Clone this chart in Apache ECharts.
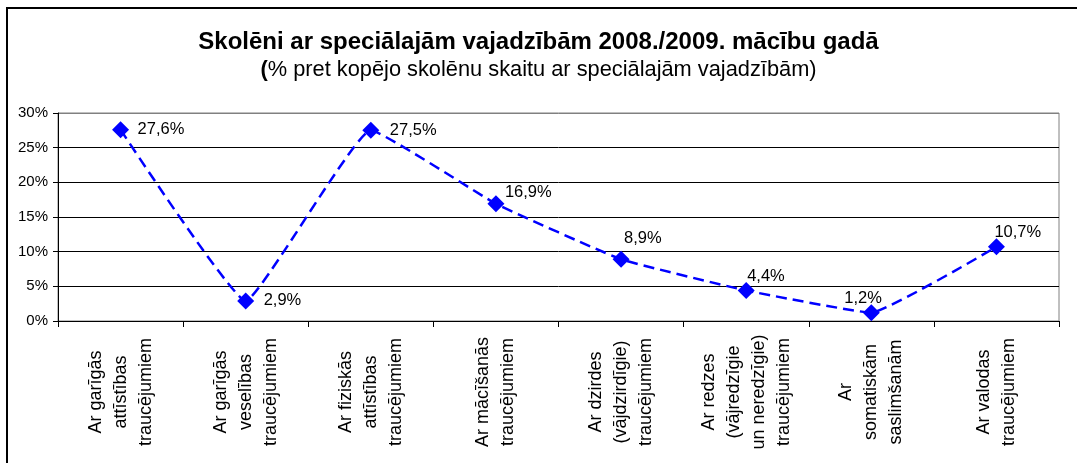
<!DOCTYPE html>
<html>
<head>
<meta charset="utf-8">
<title>Skolēni ar speciālajām vajadzībām</title>
<script src="https://cdn.jsdelivr.net/npm/echarts@6/dist/echarts.min.js"></script>
<style>
    html, body { margin: 0; padding: 0; background: #fff; overflow: hidden; }
    #chart { width: 1077px; height: 463px; }
    .frame { position: absolute; left: 6px; top: 7px; width: 1100px; height: 500px; border-left: 2px solid #000; border-top: 2px solid #000; pointer-events: none; }
</style>
</head>
<body>
<div id="chart"></div>
<div class="frame"></div>
<script>
// kategorijas (x ass)
const categories = [
    'Ar garīgās\nattīstības\ntraucējumiem',
    'Ar garīgās\nveselības\ntraucējumiem',
    'Ar fiziskās\nattīstības\ntraucējumiem',
    'Ar mācīšanās\ntraucējumiem',
    'Ar dzirdes\n(vājdzirdīgie)\ntraucējumiem',
    'Ar redzes\n(vājredzīgie\nun neredzīgie)\ntraucējumiem',
    'Ar\nsomatiskām\nsaslimšanām',
    'Ar valodas\ntraucējumiem'
];
// % no kopējā skaita
const shares = [27.6, 2.9, 27.5, 16.9, 8.9, 4.4, 1.2, 10.7];
// y ass
const yTicks = [0, 5, 10, 15, 20, 25, 30];

// etiķešu nobīde no marķiera centra [dx, dy]
const labelShift = [[17, 0], [18, 0], [19, 0], [9, -11], [3, -21], [1, -14], [-27, -14], [-2, -14]];

const ChartModule = {
    chart: null,

    init() {
        this.chart = echarts.init(document.getElementById('chart'), null, { renderer: 'canvas' });
        this.chart.setOption(this._buildOption());
    },

    _buildOption() {
        const font = "'Liberation Sans', Arial, sans-serif";
        const yMax = yTicks[yTicks.length - 1];
        const gridColors = yTicks.map((t, i) => i === yTicks.length - 1 ? '#808080' : '#000');

        return {
            backgroundColor: '#fff',
            animation: false,
            title: {
                left: 'center',
                top: 25,
                itemGap: 5,
                text: 'Skolēni ar speciālajām vajadzībām 2008./2009. mācību gadā',
                textStyle: { fontFamily: font, fontWeight: 'bold', fontSize: 24, color: '#000' },
                subtext: '{b|(}% pret kopējo skolēnu skaitu ar speciālajām vajadzībām)',
                subtextStyle: {
                    fontFamily: font, fontSize: 21.8, color: '#000',
                    rich: { b: { fontFamily: font, fontSize: 21.8, fontWeight: 'bold', color: '#000' } }
                }
            },
            grid: { left: 58, right: 18, top: 113, bottom: 142, show: true, borderColor: '#808080', borderWidth: 1 },
            xAxis: {
                type: 'category',
                data: categories,
                boundaryGap: true,
                axisLine: { lineStyle: { color: '#000', width: 1 } },
                axisTick: { show: true, length: 6, lineStyle: { color: '#000' } },
                axisLabel: {
                    interval: 0,
                    rotate: 90,
                    align: 'center',
                    verticalAlign: 'middle',
                    margin: 71,
                    lineHeight: 25,
                    fontFamily: font,
                    fontSize: 18,
                    color: '#000'
                }
            },
            yAxis: {
                type: 'value',
                min: yTicks[0],
                max: yMax,
                interval: 5,
                axisLine: { show: true, lineStyle: { color: '#000' } },
                axisTick: { show: true, length: 5, lineStyle: { color: '#000' } },
                axisLabel: { formatter: '{value}%', margin: 10, fontFamily: font, fontSize: 15, color: '#000' },
                splitLine: { show: true, lineStyle: { color: gridColors, width: 1 } }
            },
            series: [{
                type: 'line',
                data: shares.map((v, i) => ({
                    value: v,
                    label: { offset: labelShift[i] }
                })),
                smooth: 0.1,
                symbol: 'diamond',
                symbolSize: 17,
                itemStyle: { color: '#0000ff' },
                lineStyle: { color: '#0000ff', width: 2.5, type: [11, 6] },
                label: {
                    show: true,
                    position: 'inside',
                    align: 'left',
                    verticalAlign: 'middle',
                    fontFamily: font,
                    fontSize: 16.5,
                    color: '#000',
                    formatter: p => String(p.value).replace('.', ',') + '%'
                }
            }]
        };
    }
};

ChartModule.init();
</script>
</body>
</html>
